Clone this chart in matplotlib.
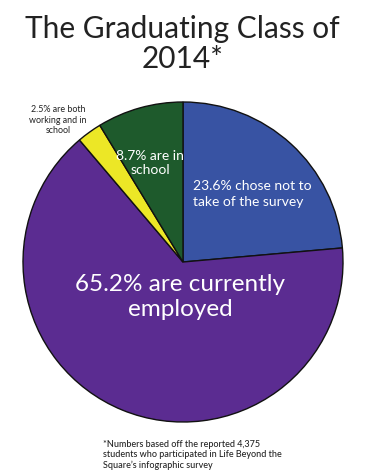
import matplotlib
matplotlib.use("Agg")
import matplotlib.pyplot as plt

plt.rcParams['font.family'] = ['Lato', 'DejaVu Sans']

labels = ["23.6% chose not to\ntake of the survey",
          "65.2% are currently\nemployed",
          "2.5% are both\nworking and in\nschool",
          "8.7% are in\nschool"]
shares = [23.6, 65.2, 2.5, 8.7]
colors = ["#3853a3", "#5b2c91", "#ece726", "#1e5a2c"]

W, H = 388, 475
cx, cy, r = 183, 262, 160

fig = plt.figure(figsize=(W / 100, H / 100), dpi=100)
ax = fig.add_axes([(cx - r) / W, (H - cy - r) / H, 2 * r / W, 2 * r / H])
ax.pie(shares, colors=colors, startangle=90, counterclock=False, radius=1,
       wedgeprops=dict(edgecolor="#111111", linewidth=1.0))
ax.set_xlim(-1, 1)
ax.set_ylim(-1, 1)
ax.axis("off")

def d(px, py):
    return (px - cx) / r, (cy - py) / r

ax.text(*d(193, 194), labels[0], color="white", fontsize=10, ha="left", va="center",
        linespacing=1.3)
ax.text(*d(180, 297), labels[1], color="white", fontsize=17.5, ha="center", va="center",
        linespacing=1.25)
ax.text(*d(58, 120), labels[2], color="#222222", fontsize=6.4, ha="center", va="center",
        linespacing=1.2, clip_on=False)
ax.text(*d(150, 163), labels[3], color="white", fontsize=10, ha="center", va="center",
        linespacing=1.2)

fig.text(0.47, 1 - 44 / H, "The Graduating Class of\n2014*", ha="center", va="center",
         fontsize=21.5, color="#222222", linespacing=1.1)
fig.text(103 / W, 1 - 455 / H,
         "*Numbers based off the reported 4,375\nstudents who participated in Life Beyond the\nSquare\u2019s infographic survey",
         ha="left", va="center", fontsize=6.5, color="#222222", linespacing=1.2,
         fontweight="medium")

fig.savefig("out.png", dpi=100, facecolor="white")
